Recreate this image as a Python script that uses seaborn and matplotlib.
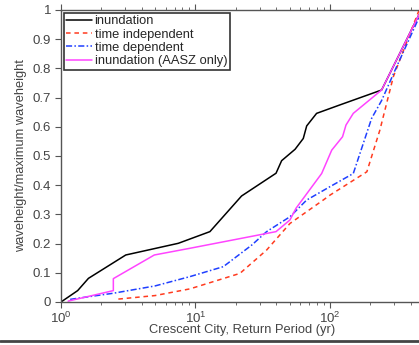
import numpy as np
import pandas as pd
import seaborn as sns
import matplotlib.pyplot as plt
from matplotlib.lines import Line2D

# return period (yr) / normalised waveheight
inund_T = [1.0, 1.33, 1.6, 3.03, 7.45, 12.8, 22, 39.7, 43.7, 55, 63.3, 67.1, 79.5, 118.6, 242, 460]
inund_v = [0.0, 0.039, 0.081, 0.161, 0.201, 0.241, 0.363, 0.441, 0.484, 0.523, 0.56, 0.603, 0.646, 0.675, 0.726, 0.985]

indep_T = [2.67, 5.0, 9.1, 21.4, 33.8, 50.4, 89, 100, 188, 235, 296, 460]
indep_v = [0.01, 0.022, 0.045, 0.098, 0.178, 0.269, 0.349, 0.366, 0.446, 0.589, 0.772, 1.0]

dep_T = [1.17, 1.6, 2.45, 5.0, 9.1, 16.1, 26.2, 33.8, 50.4, 67, 100, 149, 204, 242, 313, 460]
dep_v = [0.009, 0.018, 0.03, 0.055, 0.087, 0.121, 0.195, 0.241, 0.292, 0.349, 0.395, 0.44, 0.629, 0.69, 0.806, 0.975]

aasz_T = [1.13, 2.45, 2.45, 4.94, 9.1, 39.7, 50.4, 55.9, 86.7, 103, 124, 131.5, 149, 242, 460]
aasz_v = [0.003, 0.039, 0.08, 0.161, 0.184, 0.241, 0.281, 0.321, 0.44, 0.52, 0.566, 0.606, 0.646, 0.726, 0.985]

series = [
	("inundation", inund_T, inund_v, "black", "-"),
	("time independent", indep_T, indep_v, "#ff3b1f", (0, (3, 2.5))),
	("time dependent", dep_T, dep_v, "#1f3fff", (0, (4, 1.5, 1, 1.5))),
	("inundation (AASZ only)", aasz_T, aasz_v, "#ff44ff", "-"),
]

sns.set_style("ticks")
plt.rcParams['font.family'] = ['Liberation Sans', 'DejaVu Sans']
plt.rcParams['mathtext.fontset'] = 'custom'
plt.rcParams['mathtext.rm'] = 'Liberation Sans'

fig = plt.figure(figsize=(4.19, 3.45), dpi=100)
ax = fig.add_axes([61 / 419, 1 - 302 / 345, 363 / 419, 292 / 345])

for name, T, v, col, ls in series:
	df = pd.DataFrame({"T": T, "v": v})
	sns.lineplot(data=df, x="T", y="v", ax=ax, color=col, linestyle=ls,
		linewidth=1.1, label=name, sort=False, estimator=None)

ax.set_xscale("log")
ax.set_xlim(1, 500)
ax.set_ylim(0, 1)
ax.set_yticks(np.arange(0, 1.01, 0.1))
ax.set_yticklabels(["0", "0.1", "0.2", "0.3", "0.4", "0.5", "0.6", "0.7", "0.8", "0.9", "1"])

gray = "#555555"
for s in ax.spines.values():
	s.set_color(gray)
	s.set_linewidth(1.0)
ax.tick_params(which="both", direction="out", top=True, right=True,
	colors=gray, labelsize=9.5, labelcolor="#444444")
ax.tick_params(which="major", length=4)
ax.tick_params(which="minor", length=2.5)
ax.tick_params(axis="x", pad=2)
ax.tick_params(axis="y", pad=3)

ax.set_xlabel("Crescent City, Return Period (yr)", fontsize=9.3, color="#444444", labelpad=-1)
ax.set_ylabel("waveheight/maximum waveheight", fontsize=9.3, color="#444444", labelpad=4)

leg = ax.legend(loc="upper left", fontsize=9.3, frameon=True, fancybox=False,
	borderpad=0.2, labelspacing=0.1, handlelength=2.0, handletextpad=0.2,
	borderaxespad=0.2)
leg.get_frame().set_edgecolor("black")
leg.get_frame().set_linewidth(1.2)

# dark rule along the bottom of the picture
fig.add_artist(Line2D([0, 1], [1 - 340.5 / 345] * 2, color="#444444", linewidth=2,
	transform=fig.transFigure))

fig.savefig("out.png", dpi=100)
